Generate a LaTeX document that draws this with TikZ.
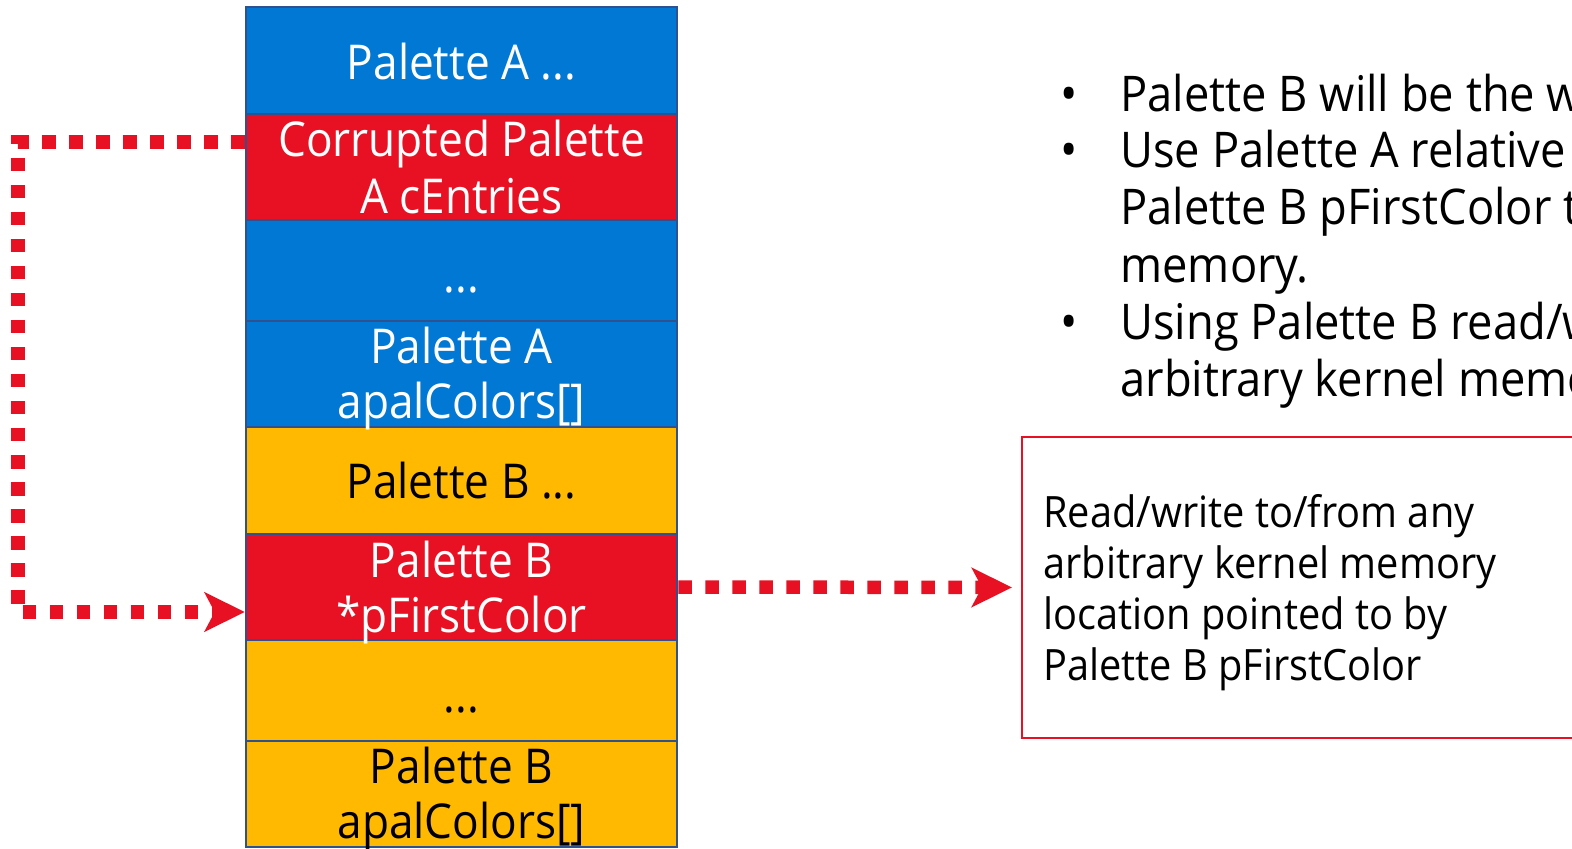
\documentclass[tikz,border=0pt]{standalone}
\usepackage{fontspec}
\setmainfont{Open Sans}[FakeStretch=0.92]
\usetikzlibrary{arrows.meta}
\definecolor{paleblue}{RGB}{0,120,212}
\definecolor{palered}{RGB}{232,17,35}
\definecolor{paleyellow}{RGB}{255,185,0}
\definecolor{edgeblue}{RGB}{47,82,143}
\begin{document}
\begin{tikzpicture}[x=0.5pt,y=-0.5pt,
  cell/.style={draw=edgeblue, line width=1.25pt, minimum width=215.5pt, inner sep=0pt, rectangle},
  stxt/.style={anchor=base, inner sep=0pt, font=\fontsize{24pt}{28pt}\selectfont},
  btxt/.style={anchor=base west, inner sep=0pt, font=\fontsize{24.6pt}{28pt}\selectfont},
  bdot/.style={anchor=base, inner sep=0pt, font=\fontsize{25pt}{28pt}\selectfont},
  ctxt/.style={anchor=base west, inner sep=0pt, font=\fontsize{21.6pt}{25pt}\selectfont},
  conn/.style={draw=palered, line width=6.75pt, dash pattern=on 6.75pt off 6.75pt,
    -{Stealth[length=20pt,width=19.5pt,inset=5pt]}},
  outbox/.style={draw=palered, line width=1.1pt, rectangle, inner sep=0pt,
    minimum width=289pt, minimum height=150.5pt}
]
\useasboundingbox (0,0) rectangle (1572,849);
\clip (0,0) rectangle (1572,849);
\fill[white] (0,0) rectangle (1572,849);

% memory stack
\node[cell, fill=paleblue,   minimum height=53.5pt] (r1) at (461.5,60.5) {};
\node[cell, fill=palered,    minimum height=53pt]   (r2) at (461.5,167) {};
\node[cell, fill=paleblue,   minimum height=50.5pt] (r3) at (461.5,270.5) {};
\node[cell, fill=paleblue,   minimum height=53pt]   (r4) at (461.5,374) {};
\node[cell, fill=paleyellow, minimum height=53.5pt] (r5) at (461.5,480.5) {};
\node[cell, fill=palered,    minimum height=53pt]   (r6) at (461.5,587) {};
\node[cell, fill=paleyellow, minimum height=50.5pt] (r7) at (461.5,690.5) {};
\node[cell, fill=paleyellow, minimum height=53pt]   (r8) at (461.5,794) {};

% stack texts
\node[stxt, white] (t1)  at (461.5,80)  {Palette A ...};
\node[stxt, white] (t2a) at (461.5,157) {Corrupted Palette};
\node[stxt, white] (t2b) at (461.5,214) {A cEntries};
\node[stxt, white] (t3)  at (461.5,293) {...};
\node[stxt, white] (t4a) at (461.5,364) {Palette A};
\node[stxt, white] (t4b) at (461.5,419) {apalColors[]};
\node[stxt, black] (t5)  at (461.5,498) {Palette B ...};
\node[stxt, white] (t6a) at (461.5,577) {Palette B};
\node[stxt, white] (t6b) at (461.5,632) {*pFirstColor};
\node[stxt, black] (t7)  at (461.5,712) {...};
\node[stxt, black] (t8a) at (461.5,783) {Palette B};
\node[stxt, black] (t8b) at (461.5,838) {apalColors[]};

% result box
\node[outbox] (box) at (1311,587.5) {};
\node[ctxt] (c1) at (1043,527) {Read/write to/from any};
\node[ctxt] (c2) at (1043,578) {arbitrary kernel memory};
\node[ctxt] (c3) at (1043,629) {location pointed to by};
\node[ctxt] (c4) at (1043,680) {Palette B pFirstColor};

% bullet list
\node[bdot] (d1) at (1069,112) {•};
\node[btxt] (b1) at (1120,112) {Palette B will be the w};
\node[bdot] (d2) at (1069,168) {•};
\node[btxt] (b2) at (1120,168) {Use Palette A relative};
\node[btxt] (b3) at (1120,225) {Palette B pFirstColor t};
\node[btxt] (b4) at (1120,283) {memory.};
\node[bdot] (d3) at (1069,340) {•};
\node[btxt] (b5) at (1120,340) {Using Palette B read/w};
\node[btxt] (b6) at (1120,397) {arbitrary kernel memo};

% connectors
\draw[conn] ([yshift=12.5pt]r2.west) -- ++(-227,0) |- ([yshift=-12.5pt]r6.west);
\draw[conn, shorten >=4.5pt] (r6.east) -- (box.west);
\end{tikzpicture}
\end{document}
